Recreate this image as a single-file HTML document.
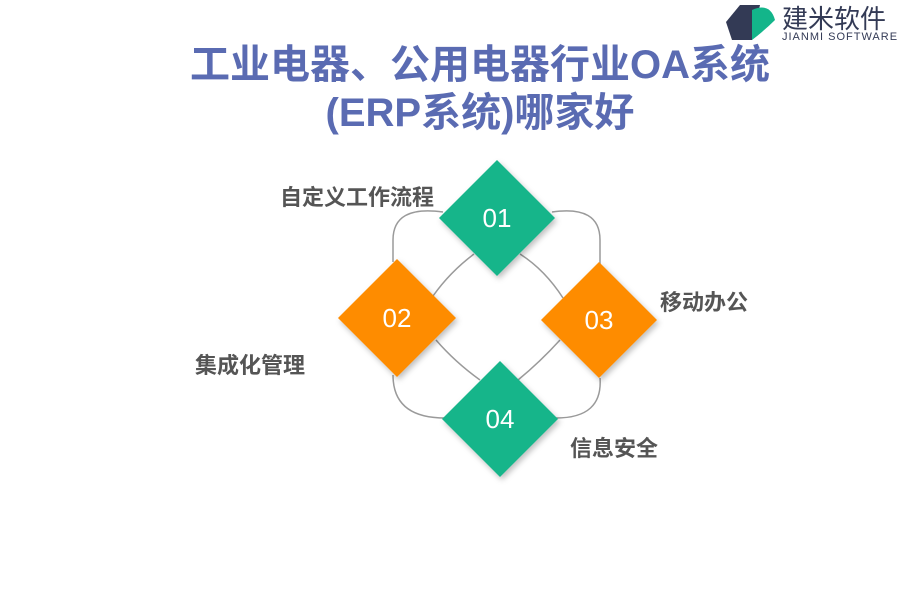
<!DOCTYPE html>
<html><head><meta charset="utf-8"><style>
body{margin:0;width:900px;height:600px;background:#fff;position:relative;overflow:hidden;font-family:"Liberation Sans","Noto Sans CJK SC",sans-serif}
.t{position:absolute;left:0;width:960px;text-align:center;color:#5a6bb2;font-weight:bold;font-size:40px;line-height:48px}
.l{position:absolute;color:#555;font-weight:bold;font-size:22px;white-space:nowrap}
</style></head><body>
<div class="t" style="top:41px">工业电器、公用电器行业OA系统</div>
<div class="t" style="top:89px">(ERP系统)哪家好</div>
<svg width="900" height="600" style="position:absolute;left:0;top:0">
<defs><filter id="s"><feDropShadow dx="2" dy="3" stdDeviation="3" flood-opacity="0.25"/></filter></defs>
<g fill="none" stroke="#9a9a9a" stroke-width="1.5">
<path d="M443 212 Q393 205 393 240 L393 262"/>
<path d="M552 212 Q600 205 600 240 L600 265"/>
<path d="M393 375 Q393 418 445 418"/>
<path d="M600 378 Q603 418 556 418"/>
<path d="M474 254 Q450 272 433 296"/>
<path d="M520 254 Q545 270 563 298"/>
<path d="M436 340 Q455 362 480 380"/>
<path d="M560 340 Q540 362 518 380"/>
</g>
<g filter="url(#s)">
<polygon points="497,160 555,218 497,276 439,218" fill="#13b58a"/>
<polygon points="397,259 456,318 397,377 338,318" fill="#fe8c00"/>
<polygon points="599,262 657,320 599,378 541,320" fill="#fe8c00"/>
<polygon points="500,361 558,419 500,477 442,419" fill="#13b58a"/>
</g>
<g fill="#fff" font-size="26" text-anchor="middle" font-family="Liberation Sans,sans-serif">
<text x="497" y="227">01</text><text x="397" y="327">02</text>
<text x="599" y="329">03</text><text x="500" y="428">04</text>
</g>
<polygon points="740,5 760,5 752,40 732,40 726,22" fill="#333a55"/>
<path d="M752 10 Q770 2 775 20 Q765 30 752 40 Z" fill="#13b58a"/>
</svg>
<div class="l" style="left:280px;top:180px">自定义工作流程</div>
<div class="l" style="left:660px;top:285px">移动办公</div>
<div class="l" style="left:195px;top:348px">集成化管理</div>
<div class="l" style="left:570px;top:431px">信息安全</div>
<div style="position:absolute;left:782px;top:-1px;font-size:26px;color:#333a55">建米软件</div>
<div style="position:absolute;left:782px;top:31px;font-size:11px;color:#333a55;letter-spacing:1px">JIANMI SOFTWARE</div>
</body></html>
